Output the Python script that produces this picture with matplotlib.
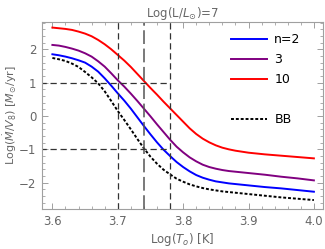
import matplotlib
matplotlib.use("Agg")
import matplotlib.pyplot as plt
from matplotlib.lines import Line2D
from matplotlib.ticker import MultipleLocator

# Log(T_o) grid and Log(Mdot/V8) values
log_t = [3.60, 3.61, 3.62, 3.63, 3.64, 3.65, 3.66, 3.67, 3.68, 3.69,
         3.70, 3.71, 3.72, 3.73, 3.74, 3.75, 3.76, 3.77, 3.78, 3.79,
         3.80, 3.81, 3.82, 3.83, 3.84, 3.85, 3.86, 3.87, 3.88, 3.89,
         3.90, 3.925, 3.95, 3.975, 4.00]
n2 = [1.85, 1.82, 1.78, 1.73, 1.67, 1.60, 1.48, 1.33, 1.13, 0.91,
      0.68, 0.46, 0.22, -0.04, -0.30, -0.55, -0.79, -1.01, -1.20, -1.38,
      -1.53, -1.66, -1.77, -1.85, -1.91, -1.96, -1.99, -2.02, -2.04, -2.06,
      -2.08, -2.13, -2.17, -2.22, -2.27]
n3 = [2.13, 2.11, 2.07, 2.02, 1.96, 1.88, 1.78, 1.64, 1.48, 1.28,
      1.07, 0.88, 0.67, 0.45, 0.22, -0.01, -0.25, -0.48, -0.71, -0.92,
      -1.09, -1.24, -1.36, -1.46, -1.53, -1.58, -1.62, -1.65, -1.67, -1.69,
      -1.71, -1.76, -1.82, -1.87, -1.93]
n10 = [2.65, 2.63, 2.61, 2.58, 2.53, 2.47, 2.39, 2.28, 2.15, 2.00,
       1.83, 1.66, 1.47, 1.26, 1.05, 0.84, 0.64, 0.43, 0.23, 0.03,
       -0.17, -0.37, -0.54, -0.68, -0.79, -0.88, -0.95, -1.00, -1.04, -1.07,
       -1.10, -1.15, -1.19, -1.23, -1.27]
bb = [1.74, 1.70, 1.65, 1.57, 1.47, 1.32, 1.16, 0.98, 0.74, 0.45,
      0.15, -0.12, -0.40, -0.69, -0.97, -1.22, -1.43, -1.61, -1.75, -1.88,
      -1.97, -2.05, -2.11, -2.16, -2.20, -2.23, -2.26, -2.28, -2.30, -2.32,
      -2.34, -2.39, -2.44, -2.48, -2.52]

t_marks = [3.70, 3.74, 3.78]
mdot_marks = [1, -1]

gray = "#666666"
frame = "#a0a0a0"

fig = plt.figure(figsize=(3.25, 2.49), dpi=100)
ax = fig.add_axes([0.129, 0.159, 0.865, 0.753])

ax.plot(log_t, n2, color=(0, 0, 1), lw=1.4, label="n=2")
ax.plot(log_t, n3, color=(0.5, 0, 0.5), lw=1.4, label="3")
ax.plot(log_t, n10, color=(1, 0, 0), lw=1.4, label="10")
ax.plot(log_t, bb, color="black", lw=1.4, ls=(0, (1.5, 1.0)), label="BB")

ax.axvline(t_marks[0], color="#333333", lw=0.9, ls=(0, (5, 3)))
ax.axvline(t_marks[1], color="#555555", lw=1.1, ls=(0, (9, 3)))
ax.axvline(t_marks[2], color="#333333", lw=0.9, ls=(0, (5, 3)))
for y in mdot_marks:
    ax.plot([3.55, t_marks[2]], [y, y], color="#333333", lw=0.9, ls=(0, (5, 3)))

ax.set_xlim(3.584, 4.014)
ax.set_ylim(-2.8, 2.82)
ax.xaxis.set_minor_locator(MultipleLocator(0.02))
ax.yaxis.set_minor_locator(MultipleLocator(0.2))
ax.set_xticks([3.6, 3.7, 3.8, 3.9, 4.0])
ax.set_xticklabels(["3.6", "3.7", "3.8", "3.9", "4.0"])
ax.set_yticks([-2, -1, 0, 1, 2])
ax.set_yticklabels(["\u22122", "\u22121", "0", "1", "2"])

ax.tick_params(which="both", direction="in", top=True, right=True,
               color=frame, labelcolor=gray, labelsize=8.5)
ax.tick_params(which="major", length=4, width=0.7, pad=4)
ax.tick_params(which="minor", length=2, width=0.6)
for s in ax.spines.values():
    s.set_color(frame)
    s.set_linewidth(0.8)

ax.set_xlabel(r"Log($T_o$) [K]", color=gray, fontsize=8.5, labelpad=2)
ax.set_ylabel(r"Log($\dot{M}/V_8$) [$M_{\odot}$/yr]", color=gray, fontsize=8,
              labelpad=0)
ax.set_title(r"Log(L/$L_{\odot}$)=7", color=gray, fontsize=8.5, pad=3)

handles, labels = ax.get_legend_handles_labels()
blank = Line2D([], [], color="none")
handles = handles[:3] + [blank] + handles[3:]
labels = labels[:3] + [""] + labels[3:]
ax.legend(handles, labels, loc="upper left", bbox_to_anchor=(0.64, 0.985),
          frameon=False, fontsize=9, handlelength=2.9, handletextpad=0.6,
          labelspacing=0.55, borderpad=0.2)

fig.savefig("out.png", dpi=100)
